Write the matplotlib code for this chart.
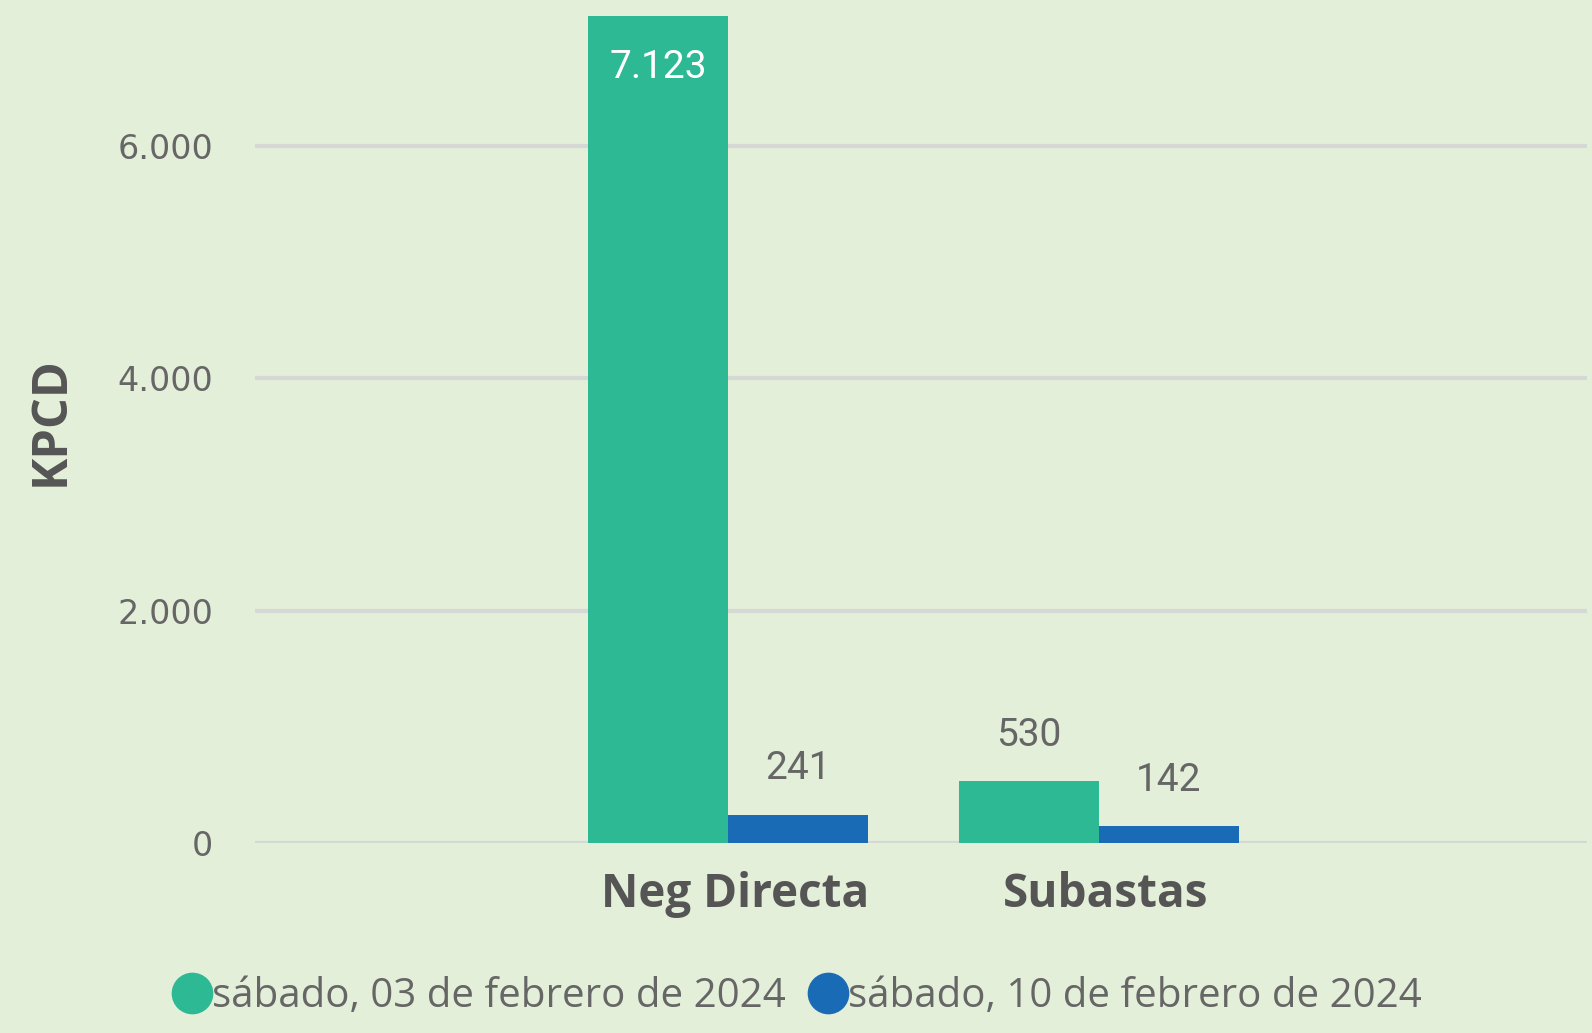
import matplotlib
matplotlib.use("Agg")
import matplotlib.pyplot as plt
from matplotlib.lines import Line2D
import numpy as np

categories = ["Neg Directa", "Subastas"]
series_names = ["sábado, 03 de febrero de 2024", "sábado, 10 de febrero de 2024"]
values_03 = [7123, 530]
values_10 = [241, 142]
yticks = [0, 2000, 4000, 6000]
ytick_labels = ["0", "2.000", "4.000", "6.000"]

colors = ["#2CB994", "#1A6BB5"]
bg = "#E3EFD9"

fig = plt.figure(figsize=(15.92, 10.33), dpi=100, facecolor=bg)
ax = fig.add_axes([0.160, 0.184, 0.837, 0.816])
ax.set_facecolor(bg)

x = np.arange(len(categories))
w = 0.378
b1 = ax.bar(x - w / 2, values_03, w, color=colors[0], zorder=3)
b2 = ax.bar(x + w / 2, values_10, w, color=colors[1], zorder=3)

ax.set_xlim(-1.277, 2.318)
ax.set_ylim(0, 7259)
ax.set_yticks(yticks)
ax.set_yticklabels(ytick_labels, fontsize=24, color="#666666", family=["DejaVu Sans"])
ax.set_xticks(x + 0.02)
ax.set_xticklabels(categories, fontsize=33, fontweight="bold", color="#555555",
                   family=["Open Sans", "DejaVu Sans"])
ax.tick_params(axis="y", length=0, pad=30)
ax.tick_params(axis="x", length=0, pad=20)
ax.grid(axis="y", color="#D6D8D6", linewidth=3, zorder=0)
for s in ax.spines.values():
    s.set_visible(False)

ax.set_ylabel("KPCD", fontsize=35, fontweight="bold", color="#555555",
              family=["Open Sans", "DejaVu Sans"], labelpad=30)

def fmt(v):
    return f"{v:,}".replace(",", ".")

lbl_font = dict(family=["Roboto", "DejaVu Sans"], fontsize=28)
for bars, vals in ((b1, values_03), (b2, values_10)):
    for rect, v in zip(bars, vals):
        cx = rect.get_x() + rect.get_width() / 2
        if v > 6000:
            ax.annotate(fmt(v), (cx, v), xytext=(0, -52), textcoords="offset pixels",
                        ha="center", va="center", color="white", **lbl_font)
        else:
            ax.annotate(fmt(v), (cx, v), xytext=(0, 46), textcoords="offset pixels",
                        ha="center", va="center", color="#666666", **lbl_font)

handles = [Line2D([], [], marker="o", ls="", markersize=29, color=c) for c in colors]
fig.legend(handles, series_names, loc="center", bbox_to_anchor=(0.501, 0.035), ncol=2,
           frameon=False, handletextpad=0.05, columnspacing=0.6, handlelength=0.9,
           prop={"family": ["Open Sans", "DejaVu Sans"], "size": 29},
           labelcolor="#666666")

fig.savefig("out.png", dpi=100, facecolor=bg)
